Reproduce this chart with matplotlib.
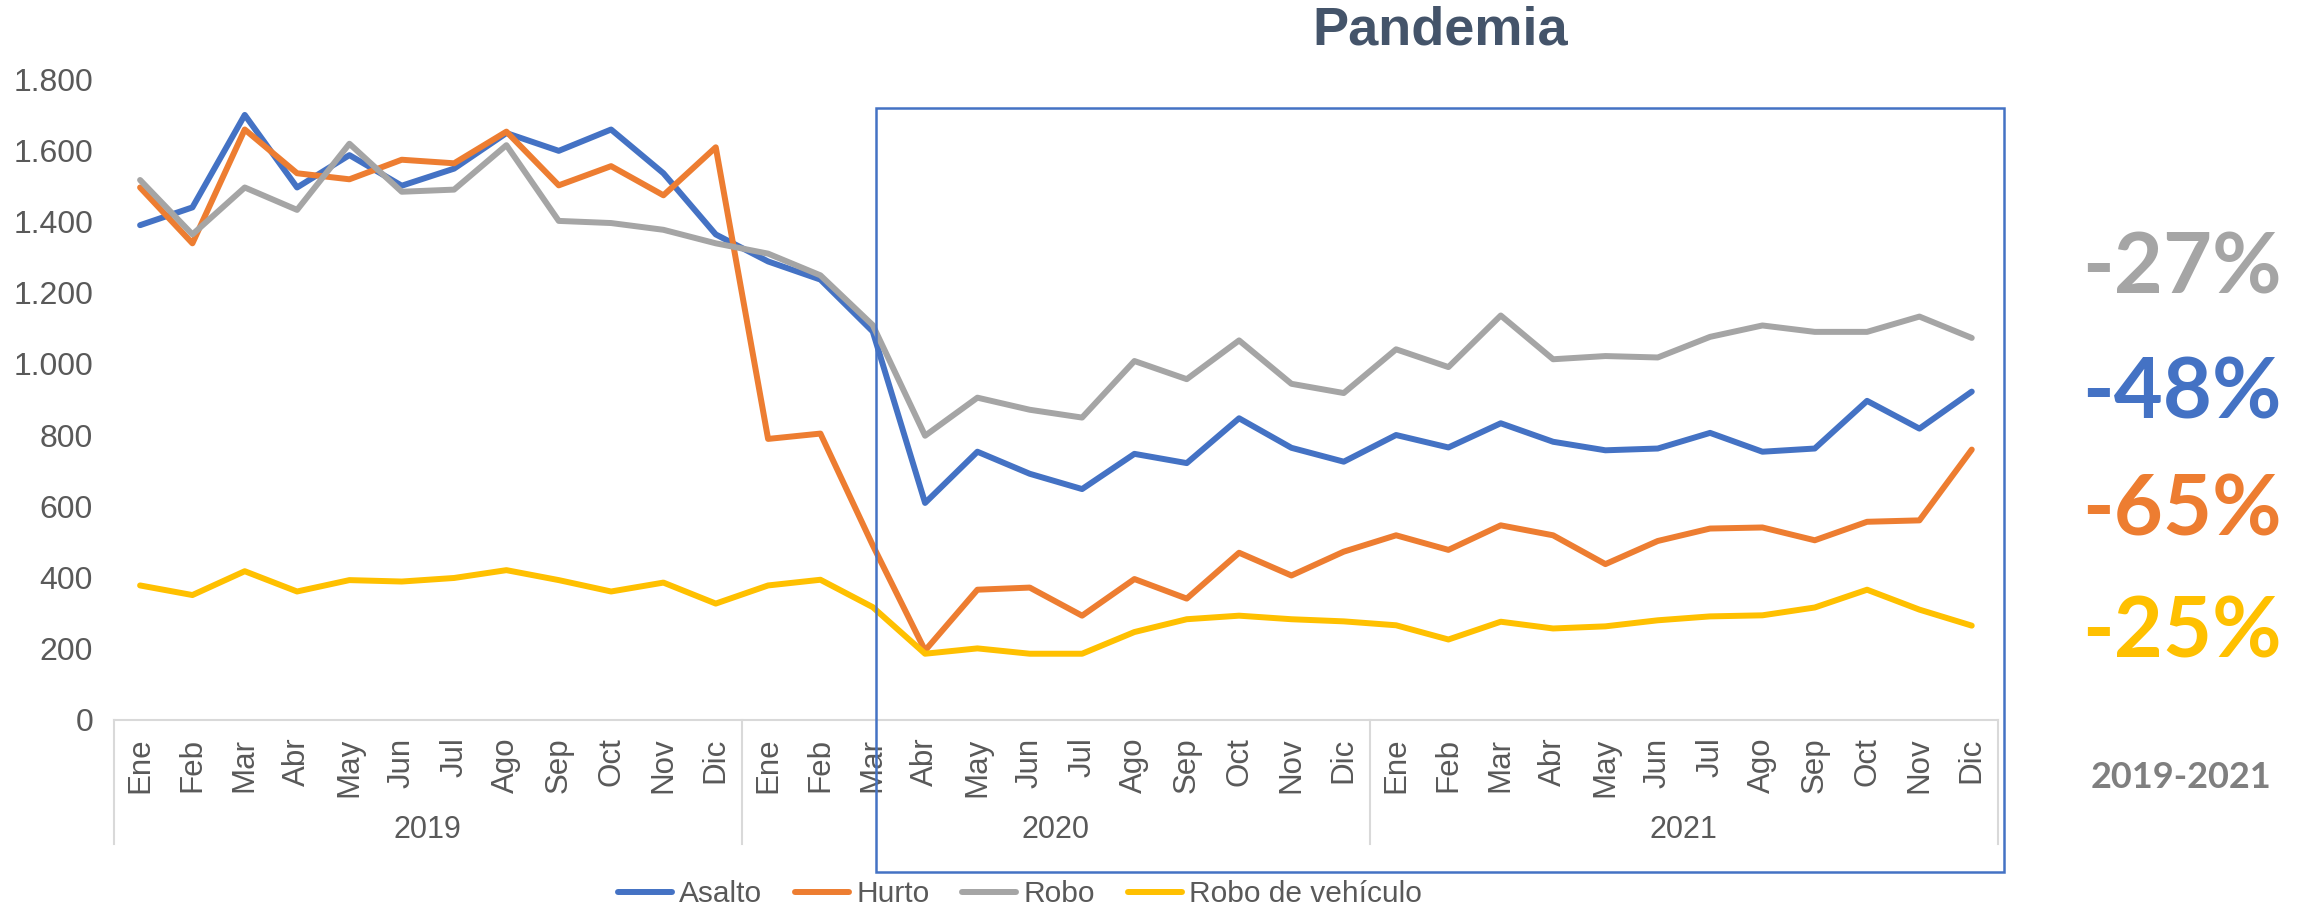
import numpy as np
import matplotlib
matplotlib.use("Agg")
import matplotlib.pyplot as plt
from matplotlib.ticker import FuncFormatter
from matplotlib.patches import Rectangle
import matplotlib.transforms as mtransforms

# Datos mensuales 2019-2021
meses = ['Ene', 'Feb', 'Mar', 'Abr', 'May', 'Jun', 'Jul', 'Ago', 'Sep', 'Oct', 'Nov', 'Dic']
anios = ['2019', '2020', '2021']

asalto = [1390, 1440, 1700, 1496, 1587, 1501, 1549, 1649, 1599, 1659, 1536, 1364,
          1288, 1237, 1091, 609, 753, 691, 648, 747, 721, 847, 764, 725,
          800, 765, 833, 781, 757, 762, 806, 753, 762, 896, 818, 922]
hurto = [1496, 1339, 1659, 1536, 1519, 1574, 1564, 1653, 1502, 1556, 1474, 1609,
         789, 804, 490, 194, 365, 371, 292, 395, 340, 469, 405, 472,
         518, 477, 546, 518, 437, 502, 537, 540, 504, 556, 560, 759]
robo = [1517, 1364, 1496, 1433, 1619, 1484, 1490, 1615, 1402, 1396, 1377, 1339,
        1310, 1249, 1109, 798, 905, 871, 849, 1008, 957, 1066, 944, 918,
        1041, 991, 1136, 1013, 1022, 1018, 1076, 1108, 1090, 1090, 1133, 1073]
vehiculo = [377, 350, 417, 360, 392, 388, 398, 420, 392, 360, 385, 326,
            377, 393, 316, 185, 200, 185, 185, 246, 282, 292, 282, 276,
            265, 225, 275, 256, 262, 279, 290, 293, 315, 365, 309, 264]

series = ['Asalto', 'Hurto', 'Robo', 'Robo de vehículo']
colores = ['#4472C4', '#ED7D31', '#A5A5A5', '#FFC000']

variaciones = ['-27%', '-48%', '-65%', '-25%']
colores_var = ['#A5A5A5', '#4472C4', '#ED7D31', '#FFC000']

plt.rcParams['font.family'] = ['Liberation Sans', 'DejaVu Sans']

fig = plt.figure(figsize=(23.06, 9.07), dpi=100)
ax = fig.add_axes([0.0494, 0.2067, 0.817, 0.7058])

x = np.arange(len(meses) * len(anios))
for datos, nombre, c in zip([asalto, hurto, robo, vehiculo], series, colores):
    ax.plot(x, datos, color=c, lw=4.3, label=nombre,
            solid_joinstyle='round', solid_capstyle='round')

ax.set_xlim(-0.5, len(x) - 0.5)
ax.set_ylim(0, 1800)
ax.set_yticks(np.arange(0, 1801, 200))
ax.yaxis.set_major_formatter(FuncFormatter(lambda v, p: f"{v:,.0f}".replace(",", ".")))
ax.set_xticks(x)
ax.set_xticklabels(meses * len(anios), rotation=90)
ax.tick_params(axis='x', length=0, pad=13, labelsize=22.5, labelcolor='#595959')
ax.tick_params(axis='y', length=0, pad=15, labelsize=23, labelcolor='#595959')
for s in ['top', 'right', 'left']:
    ax.spines[s].set_visible(False)
ax.spines['bottom'].set_color('#D9D9D9')
ax.spines['bottom'].set_linewidth(1.5)

# eje de categorias con dos niveles
trans = mtransforms.blended_transform_factory(ax.transData, ax.transAxes)
for b in [-0.5, 11.5, 23.5, 35.5]:
    ax.plot([b, b], [0, -0.195], transform=trans, color='#D9D9D9', lw=1.5, clip_on=False)
for i, a in enumerate(anios):
    ax.text(i * 12 + 5.5, -0.172, a, transform=trans, ha='center', va='center',
            fontsize=22, color='#595959')

ax.legend(loc='center', bbox_to_anchor=(0.4423, 0.0143), bbox_transform=fig.transFigure,
          ncol=4, frameon=False, fontsize=21.5, handlelength=1.8, handletextpad=0.25,
          columnspacing=1.1, labelcolor='#595959')

# recuadro de la pandemia
fig.add_artist(Rectangle((0.3799, 0.0386), 0.4892, 0.8423, transform=fig.transFigure,
                         fill=False, edgecolor='#4472C4', lw=1.8))
fig.text(0.6245, 0.966, 'Pandemia', ha='center', va='center', fontsize=39,
         fontweight='bold', color='#44546A')

for txt, c, yy in zip(variaciones, colores_var, [269, 394, 511, 633]):
    fig.text(0.9895, 1 - yy / 907, txt, ha='right', va='center', fontsize=61,
             fontweight='bold', color=c, family=['Lato', 'DejaVu Sans'])
fig.text(0.9458, 1 - 778 / 907, '2019-2021', ha='center', va='center', fontsize=26,
         fontweight='bold', color='#7F7F7F', family=['Lato', 'DejaVu Sans'])

fig.savefig('out.png', dpi=100)
